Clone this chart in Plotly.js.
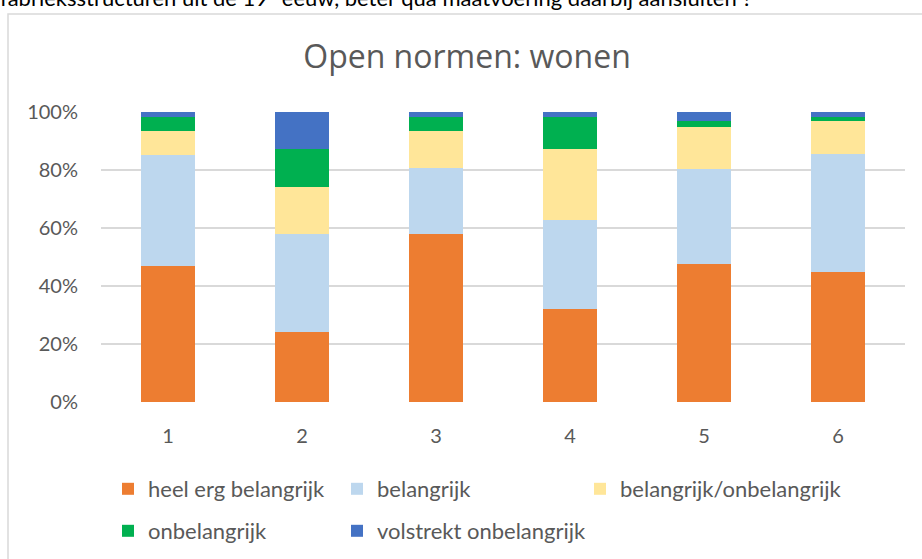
<!DOCTYPE html>
<html>
<head>
<meta charset="utf-8">
<script src="https://cdn.plot.ly/plotly-3.0.1.min.js"></script>
<style>html,body{margin:0;padding:0;background:#fff;}#chart{width:922px;height:559px;}</style>
</head>
<body>
<div id="chart"></div>
<script>
const categories = ['1', '2', '3', '4', '5', '6'];
const heelErgBelangrijk = [46.8, 24.1, 58.1, 32.2, 47.5, 45.0];
const belangrijk = [38.5, 34.0, 22.5, 30.7, 32.8, 40.4];
const neutraal = [8.1, 16.0, 12.8, 24.2, 14.7, 11.4];
const onbelangrijk = [4.9, 13.1, 4.9, 11.2, 1.8, 1.5];
const volstrektOnbelangrijk = [1.7, 12.8, 1.7, 1.7, 3.2, 1.7];
const seriesNames = ['heel erg belangrijk', 'belangrijk', 'belangrijk/onbelangrijk', 'onbelangrijk', 'volstrekt onbelangrijk'];
const tickVals = [0, 20, 40, 60, 80, 100];
const tickText = ['0%', '20%', '40%', '60%', '80%', '100%'];

const colors = ['#ED7D31', '#BDD7EE', '#FFE699', '#00B050', '#4472C4'];
const values = [heelErgBelangrijk, belangrijk, neutraal, onbelangrijk, volstrektOnbelangrijk];
const legendIds = ['legend', 'legend2', 'legend3', 'legend4', 'legend5'];

const font = 'Lato, "Open Sans", sans-serif';
const traces = values.map((v, i) => ({
  type: 'bar',
  x: categories,
  y: v,
  name: seriesNames[i],
  legend: legendIds[i],
  marker: {color: colors[i], line: {width: 0}},
  hoverinfo: 'name+y'
}));

// pixel helpers for paper coords (plot area 101..905 x, 112..402 y)
const L = 101, R = 17, T = 112, B = 157;
const W = 922 - L - R, H = 559 - T - B;
const px = x => (x - L) / W;
const py = y => (559 - B - y) / H;

// legend item anchor pixels (left, middle)
const legendPos = [[108, 489], [337, 489], [580, 489], [108, 531], [337, 531]];

const layout = {
  width: 922, height: 559,
  margin: {l: L, r: R, t: T, b: B, autoexpand: false},
  paper_bgcolor: '#ffffff', plot_bgcolor: '#ffffff',
  barmode: 'stack',
  bargap: 0.6,
  font: {family: font, color: '#595959'},
  title: {text: 'Open normen: wonen', font: {family: '"Open Sans", sans-serif', size: 32, color: '#595959'},
          xref: 'container', yref: 'container', x: 467/922, y: 1 - 57/559, xanchor: 'center', yanchor: 'middle'},
  xaxis: {type: 'category', tickfont: {size: 20, color: '#595959'}, showgrid: false, zeroline: false,
          showline: false, ticks: '', ticklabelstandoff: 20},
  yaxis: {range: [0, 100], tickvals: tickVals, ticktext: tickText, tickfont: {size: 20, color: '#595959'},
          showgrid: true, gridcolor: '#D9D9D9', gridwidth: 1.5, zeroline: false, showline: false, ticks: '', ticklabelstandoff: 22},
  showlegend: true,
  shapes: [{type: 'rect', xref: 'paper', yref: 'paper', x0: px(8), x1: px(960), y0: py(600), y1: py(14),
            line: {color: '#D9D9D9', width: 1.5}, fillcolor: 'rgba(0,0,0,0)', layer: 'below'}],
  annotations: [{text: 'fabrieksstructuren uit de 19<sup>e</sup> eeuw, beter qua maatvoering daarbij aansluiten ?',
                 xref: 'paper', yref: 'paper', x: px(-2), y: py(-4), xanchor: 'left', yanchor: 'middle',
                 showarrow: false, font: {family: 'Lato, sans-serif', size: 22, color: '#000000'}}]
};
legendIds.forEach((id, i) => {
  layout[id] = {orientation: 'h', x: px(legendPos[i][0]), y: py(legendPos[i][1]), xanchor: 'left', yanchor: 'middle',
                xref: 'paper', yref: 'paper', font: {size: 22, color: '#595959'}, bgcolor: 'rgba(0,0,0,0)'};
});

Plotly.newPlot('chart', traces, layout, {displayModeBar: false, staticPlot: true});
</script>
</body>
</html>
